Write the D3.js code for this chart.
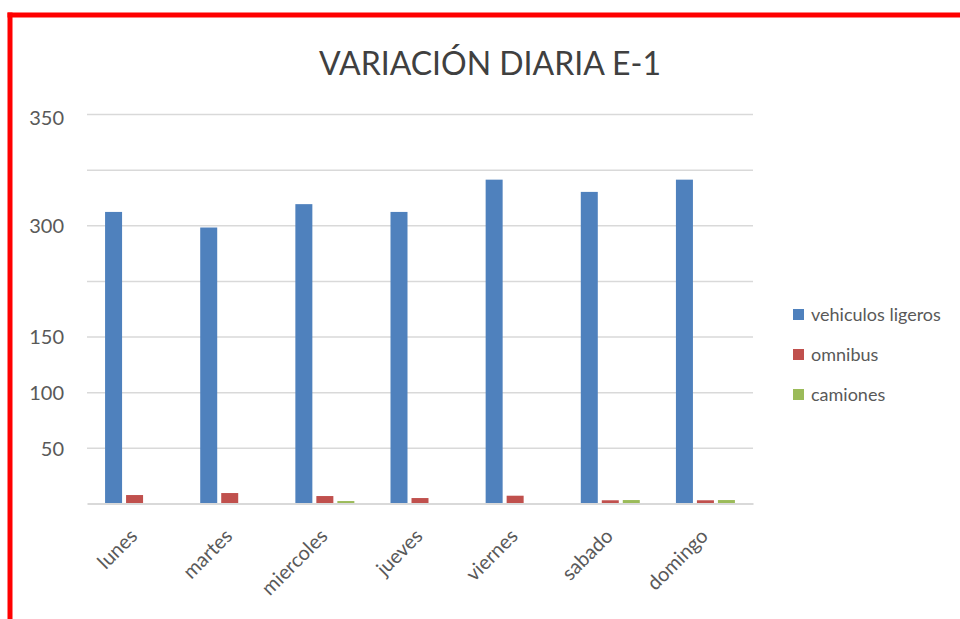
<!DOCTYPE html>
<html>
<head>
<meta charset="utf-8">
<script src="https://cdn.jsdelivr.net/npm/d3@7"></script>
<style>
  html, body { margin: 0; padding: 0; background: #fff; }
  svg { display: block; }
</style>
</head>
<body>
<svg id="chart" width="960" height="619"></svg>
<script>
const title = "VARIACIÓN DIARIA E-1";
const categories = ["lunes", "martes", "miercoles", "jueves", "viernes", "sabado", "domingo"];
const seriesNames = ["vehiculos ligeros", "omnibus", "camiones"];
const seriesColors = ["#4f81bd", "#c0504d", "#9bbb59"];
const vehiculosLigeros = [262, 248, 269, 262, 291, 280, 291];
const omnibus = [7.6, 9.4, 6.7, 4.9, 7.0, 2.9, 2.9];
const camiones = [0, 0, 2.2, 0, 0, 3.1, 3.1];
const tickValues = [50, 100, 150, 200, 250, 300, 350];
const tickLabels = ["50", "100", "150", "", "300", "", "350"];

const seriesValues = [vehiculosLigeros, omnibus, camiones];
const FONT = "Lato, 'Open Sans', sans-serif";

const svg = d3.select("#chart");
const plotLeft = 87, plotRight = 753, plotTop = 114, plotBottom = 503.5;

// red frame
svg.append("line").attr("x1", 10).attr("x2", 10).attr("y1", 12.5).attr("y2", 619)
  .attr("stroke", "#ff0000").attr("stroke-width", 5);
svg.append("line").attr("x1", 7.5).attr("x2", 960).attr("y1", 15).attr("y2", 15)
  .attr("stroke", "#ff0000").attr("stroke-width", 5);

const x0 = d3.scaleBand().domain(categories).range([plotLeft, plotRight]).padding(0);
const groupW = 59;
const x1 = d3.scaleBand().domain(seriesNames).range([0, groupW]).paddingInner(4 / 21).paddingOuter(0);
const y = d3.scaleLinear().domain([0, 350]).range([plotBottom, plotTop]);

// gridlines
const yAxis = d3.axisLeft(y).tickValues(tickValues)
  .tickSize(-(plotRight - plotLeft))
  .tickFormat((d, i) => tickLabels[i]);
const gy = svg.append("g").attr("transform", `translate(${plotLeft},0)`).call(yAxis);
gy.select(".domain").remove();
gy.selectAll(".tick line").attr("stroke", "#d9d9d9").attr("stroke-width", 1.5);
gy.selectAll(".tick text").attr("x", -23).attr("dy", d => d === 350 ? "0.5em" : "0.36em")
  .attr("fill", "#595959").style("font-family", FONT).style("font-size", "20px");

// bars
const groups = svg.append("g").selectAll("g").data(categories).join("g")
  .attr("transform", d => `translate(${x0(d) + (x0.bandwidth() - groupW) / 2},0)`);
groups.selectAll("rect")
  .data((c, ci) => seriesNames.map((s, si) => ({ s, si, v: seriesValues[si][ci] })))
  .join("rect")
  .attr("x", d => x1(d.s))
  .attr("width", x1.bandwidth())
  .attr("y", d => y(d.v))
  .attr("height", d => y(0) - y(d.v))
  .attr("fill", d => seriesColors[d.si]);

// baseline axis
const xAxis = d3.axisBottom(x0).tickSize(0).tickPadding(0);
const gx = svg.append("g").attr("transform", `translate(0,${plotBottom})`).call(xAxis);
gx.select(".domain").attr("stroke", "#d9d9d9").attr("stroke-width", 2);
gx.selectAll(".tick text")
  .attr("text-anchor", "end")
  .attr("x", 0).attr("y", 0).attr("dy", "0.35em")
  .attr("transform", "translate(-1,29) rotate(-45)")
  .attr("fill", "#595959").style("font-family", FONT).style("font-size", "20px");

// title
svg.append("text").attr("x", 490).attr("y", 75).attr("text-anchor", "middle")
  .attr("fill", "#404040").style("font-family", FONT).style("font-size", "32px")
  .text(title);

// legend
const lg = svg.append("g").selectAll("g").data(seriesNames).join("g")
  .attr("transform", (d, i) => `translate(793,${309 + i * 40})`);
lg.append("rect").attr("width", 11).attr("height", 11).attr("fill", (d, i) => seriesColors[i]);
lg.append("text").attr("x", 18).attr("y", 5.5).attr("dy", "0.36em")
  .attr("fill", "#595959").style("font-family", FONT).style("font-size", "18px")
  .text(d => d);
</script>
</body>
</html>
